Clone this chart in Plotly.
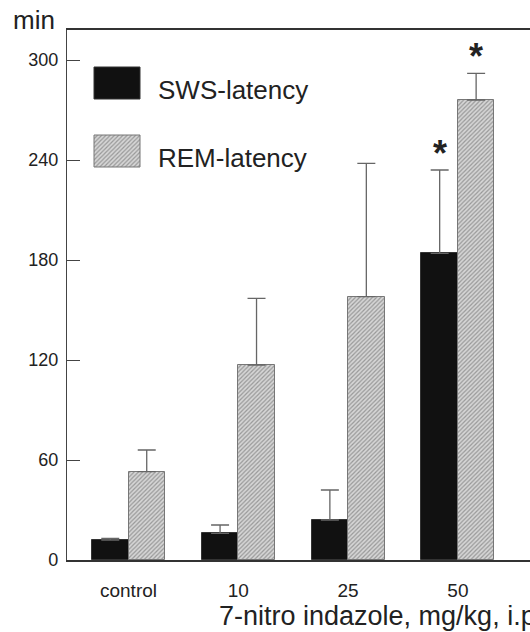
import plotly.graph_objects as go

# ---- data ----
categories = ["control", "10", "25", "50"]
sws_mean = [12, 16, 24, 184]
sws_err = [1, 5, 18, 50]
rem_mean = [53, 117, 158, 276]
rem_err = [13, 40, 80, 16]
significant = [False, False, False, True]
y_ticks = [0, 60, 120, 180, 240, 300]

W, H = 530, 632
ML, MR, MT, MB = 67, 0, 30, 72
FONT = "Liberation Sans, Arial, sans-serif"
TXT = "#222222"

PX0, PX1 = ML, W - MR
PY0, PY1 = H - MB, MT


def px(x):
    return (x - PX0) / (PX1 - PX0)


def py(y):
    return (PY0 - y) / (PY0 - PY1)


xpos = list(range(len(categories)))
bw = 0.332

HATCH = dict(shape="/", bgcolor="#d6d6d6", fgcolor="#5a5a5a", size=3, solidity=0.4)

fig = go.Figure()

fig.add_trace(go.Bar(
    x=xpos, y=sws_mean, width=bw, offset=-bw, name="SWS-latency",
    marker=dict(color="#111111", line=dict(color="#333333", width=1)),
    error_y=dict(type="data", array=sws_err, arrayminus=[0] * len(sws_err),
                 symmetric=False, color="#666666", thickness=1.3, width=9),
    showlegend=False,
))
fig.add_trace(go.Bar(
    x=xpos, y=rem_mean, width=bw, offset=0, name="REM-latency",
    marker=dict(color="#d6d6d6", line=dict(color="#777777", width=1), pattern=HATCH),
    error_y=dict(type="data", array=rem_err, arrayminus=[0] * len(rem_err),
                 symmetric=False, color="#666666", thickness=1.3, width=9),
    showlegend=False,
))

# ---- manual legend (page-pixel overlay axes) ----
fig.add_trace(go.Scatter(
    x=[94, 140, 140, 94, 94], y=[67, 67, 99, 99, 67], xaxis="x2", yaxis="y2",
    mode="lines", fill="toself", fillcolor="#111111",
    line=dict(color="#333333", width=1), showlegend=False, hoverinfo="skip"))
fig.add_trace(go.Scatter(
    x=[94, 140, 140, 94, 94], y=[135, 135, 167, 167, 135], xaxis="x2", yaxis="y2",
    mode="lines", fill="toself", fillcolor="#d6d6d6", fillpattern=HATCH,
    line=dict(color="#777777", width=1), showlegend=False, hoverinfo="skip"))

ann = []
ann.append(dict(x=px(156), y=py(90), xref="paper", yref="paper", text="SWS-latency", showarrow=False,
                xanchor="left", yanchor="middle", font=dict(family=FONT, size=26, color=TXT)))
ann.append(dict(x=px(156), y=py(158), xref="paper", yref="paper", text="REM-latency", showarrow=False,
                xanchor="left", yanchor="middle", font=dict(family=FONT, size=26, color=TXT)))
ann.append(dict(x=px(11), y=py(20), xref="paper", yref="paper",
                text="min", showarrow=False,
                xanchor="left", yanchor="middle", font=dict(family=FONT, size=26, color=TXT)))
ann.append(dict(x=px(217), y=py(616), xref="paper", yref="paper",
                text="7-nitro indazole, mg/kg, i.p.",
                showarrow=False, xanchor="left", yanchor="middle",
                font=dict(family=FONT, size=27, color=TXT)))

# significance asterisks
for i, sig in enumerate(significant):
    if sig:
        ann.append(dict(x=i - bw / 2, y=sws_mean[i] + sws_err[i], text="<b>*</b>", showarrow=False,
                        yanchor="middle", yshift=17, font=dict(family=FONT, size=36, color=TXT)))
        ann.append(dict(x=i + bw / 2, y=rem_mean[i] + rem_err[i], text="<b>*</b>", showarrow=False,
                        yanchor="middle", yshift=17, font=dict(family=FONT, size=36, color=TXT)))

left = (PX0 - 128.5) / 109.8
right = (PX1 - 128.5) / 109.8

fig.update_layout(
    width=W, height=H,
    margin=dict(l=ML, r=MR, t=MT, b=MB),
    paper_bgcolor="white", plot_bgcolor="white",
    bargap=0, barmode="overlay",
    annotations=ann,
    xaxis=dict(range=[left, right], tickvals=xpos, ticktext=categories,
               showgrid=False, zeroline=False, showline=True, linecolor="#333333", linewidth=1.5,
               mirror=True, ticks="", ticklabelstandoff=12,
               tickfont=dict(family=FONT, size=19, color=TXT)),
    yaxis=dict(range=[0, 318], tickvals=y_ticks, showgrid=False, zeroline=False,
               showline=True, linecolor="#444444", linewidth=1.3, mirror=False,
               ticks="inside", ticklen=13, tickcolor="#444444", tickwidth=1.3,
               ticklabelstandoff=4,
               tickfont=dict(family=FONT, size=18, color=TXT)),
    xaxis2=dict(overlaying="x", range=[PX0, PX1], visible=False, fixedrange=True),
    yaxis2=dict(overlaying="y", range=[PY0, PY1], visible=False, fixedrange=True),
)

fig.write_html(
    "out.html",
    config={"displayModeBar": False},
    post_script="document.body.style.margin='0';document.body.style.overflow='hidden';",
)
